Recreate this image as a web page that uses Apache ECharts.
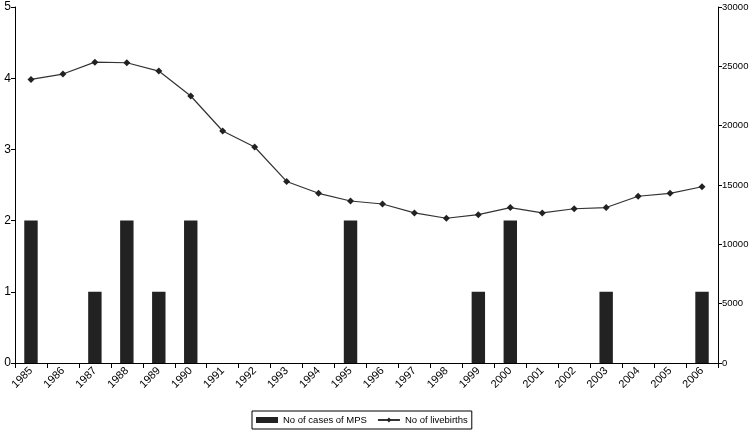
<!DOCTYPE html>
<html><head><meta charset="utf-8">
<script src="https://cdn.jsdelivr.net/npm/echarts@6/dist/echarts.min.js"></script>
<style>html,body{margin:0;padding:0;background:#fff}#c{width:750px;height:431px}</style>
</head><body><div id="c"></div>
<script>
var years = ['1985','1986','1987','1988','1989','1990','1991','1992','1993','1994','1995','1996','1997','1998','1999','2000','2001','2002','2003','2004','2005','2006'];
var mpsCases = [2,0,1,2,1,2,0,0,0,0,2,0,0,0,1,2,0,0,1,0,0,1];
var livebirths = [23900,24350,25350,25300,24600,22500,19550,18200,15300,14300,13650,13400,12650,12200,12500,13100,12650,13000,13100,14050,14300,14850];

var font = 'Liberation Sans, Arial, sans-serif';
var chart = echarts.init(document.getElementById('c'));
chart.setOption({
  animation: false,
  grid: {left: 15, right: 32, top: 7, bottom: 68, containLabel: false, outerBoundsMode: 'none'},
  legend: {
    bottom: 2, left: 252,
    borderColor: '#000', borderWidth: 1, padding: [4, 4],
    itemWidth: 22, itemHeight: 6, itemGap: 10,
    textStyle: {fontFamily: font, fontSize: 9.5, color: '#000'},
    data: [
      {name: 'No of cases of MPS', icon: 'rect'},
      {name: 'No of livebirths'}
    ]
  },
  xAxis: {
    type: 'category', data: years,
    axisLine: {lineStyle: {color: '#000', width: 1}},
    axisTick: {show: true, alignWithLabel: false, length: 5, lineStyle: {color: '#000'}},
    axisLabel: {rotate: 45, interval: 0, fontFamily: font, fontSize: 11, color: '#000', margin: 6}
  },
  yAxis: [
    {type: 'value', min: 0, max: 5, interval: 1, position: 'left',
     axisLine: {show: true, lineStyle: {color: '#000'}},
     axisTick: {show: true, length: 4, lineStyle: {color: '#000'}},
     axisLabel: {fontFamily: font, fontSize: 12, color: '#000', margin: 4},
     splitLine: {show: false}},
    {type: 'value', min: 0, max: 30000, interval: 5000, position: 'right',
     axisLine: {show: true, lineStyle: {color: '#000'}},
     axisTick: {show: true, length: 4, lineStyle: {color: '#000'}},
     axisLabel: {fontFamily: font, fontSize: 9.5, color: '#000', margin: 4, formatter: function (v) { return String(v); }},
     splitLine: {show: false}}
  ],
  series: [
    {name: 'No of cases of MPS', type: 'bar', yAxisIndex: 0, data: mpsCases,
     barWidth: '42%', itemStyle: {color: '#222'}},
    {name: 'No of livebirths', type: 'line', yAxisIndex: 1, data: livebirths,
     symbol: 'diamond', symbolSize: 7,
     lineStyle: {color: '#333', width: 1.2}, itemStyle: {color: '#222'}}
  ]
});
</script></body></html>
